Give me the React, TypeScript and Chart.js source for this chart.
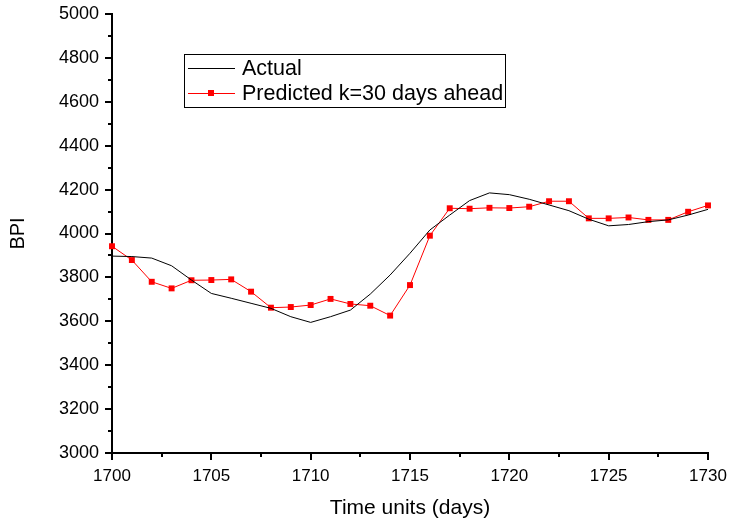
import React, { useEffect, useRef } from 'react';
import { Chart, registerables } from 'chart.js';

Chart.register(...registerables);

const days = [
  1700, 1701, 1702, 1703, 1704, 1705, 1706, 1707, 1708, 1709, 1710,
  1711, 1712, 1713, 1714, 1715, 1716, 1717, 1718, 1719, 1720,
  1721, 1722, 1723, 1724, 1725, 1726, 1727, 1728, 1729, 1730,
];

const actual = [
  3897, 3895, 3888, 3853, 3788, 3727, 3705, 3682, 3659, 3621, 3595,
  3621, 3651, 3724, 3811, 3910, 4016, 4084, 4150, 4185, 4177,
  4156, 4130, 4104, 4065, 4035, 4041, 4054, 4062, 4084, 4110,
];

const predicted = [
  3942, 3879, 3780, 3750, 3787, 3788, 3791, 3735, 3662, 3665, 3674,
  3702, 3679, 3671, 3626, 3765, 3990, 4115, 4113, 4117, 4116,
  4122, 4147, 4147, 4069, 4069, 4073, 4062, 4062, 4099, 4128,
];

const xTicks = [1700, 1705, 1710, 1715, 1720, 1725, 1730];
const yTicks = [3000, 3200, 3400, 3600, 3800, 4000, 4200, 4400, 4600, 4800, 5000];

const seriesLabels = ['Actual', 'Predicted k=30 days ahead'];

const FONT = "'Liberation Sans', Arial, sans-serif";

const decorPlugin = {
  id: 'decor',
  afterDraw(chart: any) {
    const { ctx, chartArea: ca, scales } = chart;
    const x = scales.x;
    const y = scales.y;
    ctx.save();
    ctx.strokeStyle = '#000';
    ctx.lineWidth = 2;
    ctx.beginPath();
    xTicks.forEach((v, i) => {
      const px = Math.round(x.getPixelForValue(v));
      ctx.moveTo(px, ca.bottom);
      ctx.lineTo(px, ca.bottom + 7);
      if (i < xTicks.length - 1) {
        const m = Math.round(x.getPixelForValue((v + xTicks[i + 1]) / 2));
        ctx.moveTo(m, ca.bottom);
        ctx.lineTo(m, ca.bottom + 4);
      }
    });
    yTicks.forEach((v, i) => {
      const py = Math.round(y.getPixelForValue(v));
      ctx.moveTo(ca.left, py);
      ctx.lineTo(ca.left - 7, py);
      if (i < yTicks.length - 1) {
        const m = Math.round(y.getPixelForValue((v + yTicks[i + 1]) / 2));
        ctx.moveTo(ca.left, m);
        ctx.lineTo(ca.left - 4, m);
      }
    });
    ctx.stroke();

    // legend box
    const bx = ca.left + 72;
    const by = ca.top + 40;
    const bw = 321;
    const bh = 53;
    ctx.lineWidth = 1;
    ctx.strokeStyle = '#000';
    ctx.strokeRect(bx + 0.5, by + 0.5, bw, bh);
    const ds = chart.data.datasets;
    const rows = [by + 14, by + 39];
    ds.forEach((d: any, i: number) => {
      const ry = rows[i];
      ctx.strokeStyle = d.borderColor;
      ctx.lineWidth = 1;
      ctx.beginPath();
      ctx.moveTo(bx + 4, ry + 0.5);
      ctx.lineTo(bx + 51, ry + 0.5);
      ctx.stroke();
      if (d.pointRadius > 0) {
        ctx.fillStyle = d.pointBackgroundColor;
        ctx.fillRect(bx + 24, ry - 3, 6, 6);
      }
      ctx.fillStyle = '#000';
      ctx.font = `21.5px ${FONT}`;
      ctx.textBaseline = 'middle';
      ctx.textAlign = 'left';
      ctx.fillText(d.label, bx + 58, ry + 1);
    });
    ctx.restore();
  },
};

export default function App() {
  const ref = useRef<HTMLCanvasElement | null>(null);

  useEffect(() => {
    document.body.style.margin = '0';
    const canvas = ref.current;
    if (!canvas) return;
    const chart = new Chart(canvas, {
      type: 'line',
      data: {
        datasets: [
          {
            label: seriesLabels[0],
            data: days.map((d, i) => ({ x: d, y: actual[i] })),
            borderColor: '#000000',
            backgroundColor: '#000000',
            borderWidth: 1,
            pointRadius: 0,
            pointBackgroundColor: '#000000',
            tension: 0,
          },
          {
            label: seriesLabels[1],
            data: days.map((d, i) => ({ x: d, y: predicted[i] })),
            borderColor: '#ff0000',
            backgroundColor: '#ff0000',
            borderWidth: 1,
            pointStyle: 'rect',
            pointRadius: 4.2,
            pointBorderWidth: 0,
            pointBackgroundColor: '#ff0000',
            tension: 0,
          },
        ],
      },
      options: {
        responsive: false,
        animation: false,
        clip: false,
        layout: { padding: { top: 14, right: 22, bottom: 0, left: 0 } },
        plugins: {
          legend: { display: false },
          tooltip: { enabled: false },
        },
        scales: {
          x: {
            type: 'linear',
            min: 1700,
            max: 1730,
            afterFit: (s: any) => {
              s.height = 72;
              s.paddingLeft = 0;
              s.paddingRight = 0;
              s.paddingTop = 0;
              s.paddingBottom = 0;
            },
            afterBuildTicks: (s: any) => { s.ticks = xTicks.map((v) => ({ value: v })); },
            grid: { display: false, drawTicks: false },
            border: { display: true, color: '#000', width: 2 },
            ticks: {
              color: '#000',
              font: { family: FONT, size: 17 },
              padding: 13,
              maxRotation: 0,
              callback: (v: any) => String(v),
            },
            title: {
              display: true,
              text: 'Time units (days)',
              color: '#000',
              font: { family: FONT, size: 21 },
              padding: { top: 0, bottom: 4 },
            },
          },
          y: {
            type: 'linear',
            min: 3000,
            max: 5000,
            afterFit: (s: any) => {
              s.width = 112;
              s.paddingLeft = 0;
              s.paddingRight = 0;
              s.paddingTop = 0;
              s.paddingBottom = 0;
            },
            afterBuildTicks: (s: any) => { s.ticks = yTicks.map((v) => ({ value: v })); },
            grid: { display: false, drawTicks: false },
            border: { display: true, color: '#000', width: 2 },
            ticks: {
              color: '#000',
              font: { family: FONT, size: 18 },
              padding: 13,
              callback: (v: any) => String(v),
            },
            title: {
              display: true,
              text: 'BPI',
              color: '#000',
              font: { family: FONT, size: 20 },
              padding: { top: 6, bottom: 0 },
            },
          },
        },
      },
      plugins: [decorPlugin],
    });
    return () => chart.destroy();
  }, []);

  return (
    <div style={{ width: 730, height: 525, background: '#fff' }}>
      <canvas ref={ref} width={730} height={525} style={{ display: 'block' }} />
    </div>
  );
}
